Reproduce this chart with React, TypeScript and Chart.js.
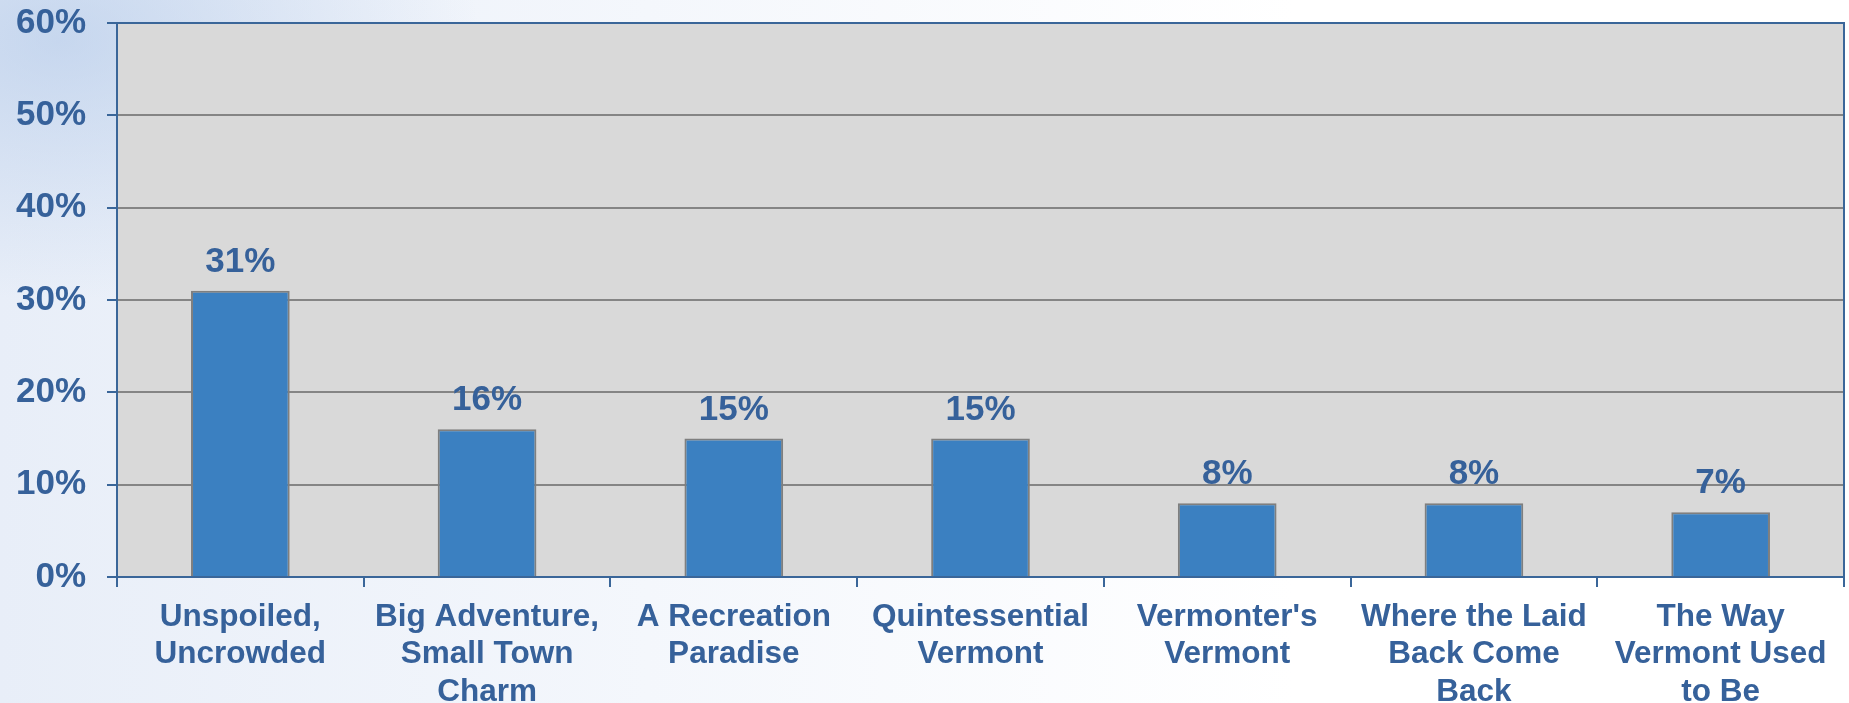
import React, { useEffect, useRef } from "react";
import { Chart, registerables } from "chart.js";

Chart.register(...registerables);

const categories: string[][] = [
  ["Unspoiled,", "Uncrowded"],
  ["Big Adventure,", "Small Town", "Charm"],
  ["A Recreation", "Paradise"],
  ["Quintessential", "Vermont"],
  ["Vermonter's", "Vermont"],
  ["Where the Laid", "Back Come", "Back"],
  ["The Way", "Vermont Used", "to Be"],
];
const values: number[] = [31, 16, 15, 15, 8, 8, 7];
const yTicks: number[] = [0, 10, 20, 30, 40, 50, 60];

const FONT = '"Liberation Sans", Arial, sans-serif';
const TEXT = "#36619A";
const AXIS = "#3A6699";
const GRID = "#858585";

const plotBg = {
  id: "plotBg",
  beforeDraw(chart: any) {
    const { ctx, chartArea: a } = chart;
    ctx.save();
    ctx.fillStyle = "#D9D9D9";
    ctx.fillRect(a.left, a.top, a.right - a.left, a.bottom - a.top);
    ctx.restore();
  },
  afterDatasetsDraw(chart: any) {
    const { ctx, chartArea: a } = chart;
    ctx.save();
    ctx.strokeStyle = AXIS;
    ctx.lineWidth = 2;
    ctx.strokeRect(a.left, a.top, a.right - a.left, a.bottom - a.top);
    const meta = chart.getDatasetMeta(0);
    ctx.fillStyle = TEXT;
    ctx.font = "bold 35px " + FONT;
    ctx.textAlign = "center";
    ctx.textBaseline = "alphabetic";
    meta.data.forEach((bar: any, i: number) => {
      ctx.fillText(values[i] + "%", bar.x, bar.y - 19);
    });
    ctx.restore();
  },
};

export default function App() {
  const ref = useRef<HTMLCanvasElement>(null);
  useEffect(() => {
    if (!ref.current) return;
    const chart = new Chart(ref.current, {
      type: "bar",
      data: {
        labels: categories,
        datasets: [
          {
            data: values,
            backgroundColor: "#3B80C1",
            borderColor: "#7F7F7F",
            borderWidth: 2,
            categoryPercentage: 1,
            barPercentage: 0.4,
          },
        ],
      },
      options: {
        animation: false,
        responsive: false,
        maintainAspectRatio: false,
        layout: { padding: { top: 23, right: 5, left: 0, bottom: 0 } },
        plugins: { legend: { display: false }, tooltip: { enabled: false } },
        scales: {
          x: {
            grid: {
              offset: true,
              drawOnChartArea: false,
              drawTicks: true,
              tickLength: 10,
              color: AXIS,
              lineWidth: 2,
            },
            border: { color: AXIS, width: 2 },
            ticks: {
              color: TEXT,
              font: { family: FONT, size: 31.5, weight: "bold", lineHeight: 1.2 },
              padding: 11,
              maxRotation: 0,
              autoSkip: false,
            },
            afterFit(scale: any) {
              scale.height = 126;
              scale.paddingLeft = 0;
              scale.paddingRight = 0;
            },
          },
          y: {
            min: 0,
            max: 60,
            afterBuildTicks(scale: any) {
              scale.ticks = yTicks.map((v) => ({ value: v }));
            },
            grid: {
              color: GRID,
              lineWidth: 2,
              tickColor: AXIS,
              tickLength: 10,
            },
            border: { color: AXIS, width: 2 },
            ticks: {
              color: TEXT,
              font: { family: FONT, size: 35, weight: "bold" },
              padding: 21,
              callback: (v: any) => v + "%",
            },
            afterFit(scale: any) {
              scale.width = 117;
              scale.paddingTop = 0;
              scale.paddingBottom = 0;
            },
          },
        },
      },
      plugins: [plotBg],
    });
    return () => chart.destroy();
  }, []);

  return (
    <div
      style={{
        position: "absolute",
        left: 0,
        top: 0,
        width: 1849,
        height: 703,
        overflow: "hidden",
        background:
          "radial-gradient(ellipse 420px 260px at 60px 40px, rgba(170,195,230,0.55), rgba(200,215,240,0.0)), linear-gradient(90deg, #E8EEF8 0%, #F4F7FC 35%, #FFFFFF 70%)",
      }}
    >
      <canvas ref={ref} width={1849} height={703} style={{ display: "block" }} />
    </div>
  );
}
